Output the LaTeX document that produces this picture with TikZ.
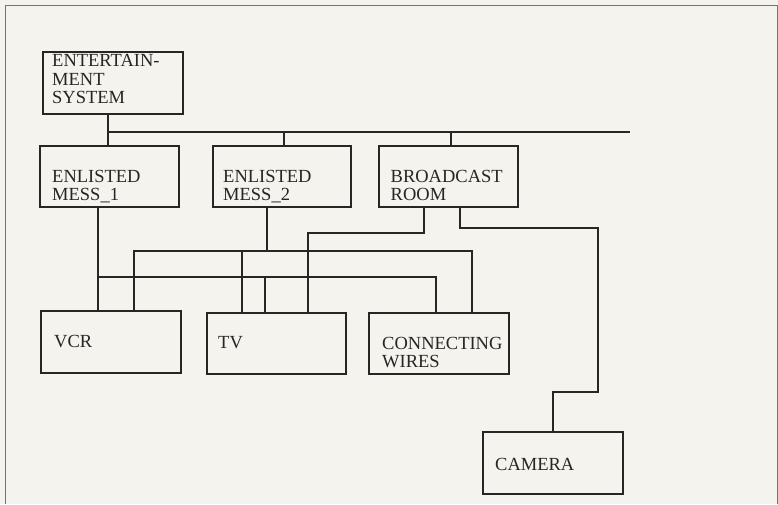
\documentclass[tikz,border=0pt]{standalone}
\usepackage{fontspec}
\setmainfont{Liberation Serif}
\definecolor{paper}{RGB}{244,243,237}
\definecolor{ink}{RGB}{38,38,38}
\definecolor{framec}{RGB}{115,115,115}
\tikzset{
  box/.style={draw=ink, line width=1.5pt, rectangle, inner sep=0pt, anchor=north west},
  lbl/.style={anchor=base west, inner sep=0pt, text=ink, font=\fontsize{18.5}{19}\selectfont},
  wire/.style={draw=ink, line width=1.5pt, line join=miter}
}
\begin{document}
\begin{tikzpicture}[x=1pt,y=-1pt]
\fill[paper] (0,0) rectangle (778,504);
\useasboundingbox (0,0) rectangle (778,504);
% outer frame
\draw[framec, line width=1pt] (5,504) -- (5,5) -- (777,5) -- (777,504);
% boxes
\node[box, minimum width=140pt, minimum height=62pt] (ent) at (42,51) {};
\node[box, minimum width=139pt, minimum height=61pt] (m1) at (39,145) {};
\node[box, minimum width=138pt, minimum height=61pt] (m2) at (212,145) {};
\node[box, minimum width=139pt, minimum height=61pt] (br) at (378,145) {};
\node[box, minimum width=140pt, minimum height=62pt] (vcr) at (40,310) {};
\node[box, minimum width=139pt, minimum height=61pt] (tv) at (206,312) {};
\node[box, minimum width=140pt, minimum height=61pt] (cw) at (368,312) {};
\node[box, minimum width=140pt, minimum height=62pt] (cam) at (482,431) {};
% labels
\node[lbl] (entA) at (52,66.5) {ENTERTAIN-};
\node[lbl] (entB) at (52,85) {MENT};
\node[lbl] (entC) at (52,103.5) {SYSTEM};
\node[lbl] (m1A) at (52,182) {ENLISTED};
\node[lbl] (m1B) at (52,200.5) {MESS\_1};
\node[lbl] (m2A) at (223,182) {ENLISTED};
\node[lbl] (m2B) at (223,200.5) {MESS\_2};
\node[lbl] (brA) at (390.5,182) {BROADCAST};
\node[lbl] (brB) at (390.5,200.5) {ROOM};
\node[lbl] (vcrA) at (54,347.5) {VCR};
\node[lbl] (tvA) at (218,348) {TV};
\node[lbl] (cwA) at (382,349) {CONNECTING};
\node[lbl] (cwB) at (382,367.5) {WIRES};
\node[lbl] (camA) at (495,470) {CAMERA};
% bus
\coordinate (bus) at (630,132);
\draw[wire] (ent.south -| 108,0) -- (m1.north -| 108,0);
\draw[wire] (m1.north -| 108,0) |- (bus);
\draw[wire] (m2.north -| 284,0) -- (bus -| 284,0);
\draw[wire] (br.north -| 451,0) -- (bus -| 451,0);
% ENLISTED MESS_1 connections
\draw[wire] (m1.south -| 98,0) -- (vcr.north -| 98,0);
\draw[wire] (m1.south -| 98,0) -- (98,277) -| (tv.north -| 265,0);
\draw[wire] (98,277) -| (cw.north -| 436,0);
% ENLISTED MESS_2 connections
\draw[wire] (m2.south -| 267,0) -- (267,251) -| (vcr.north -| 134,0);
\draw[wire] (267,251) -| (tv.north -| 242,0);
\draw[wire] (267,251) -| (cw.north -| 472,0);
% BROADCAST ROOM connections
\draw[wire] (br.south -| 424,0) -- (424,233) -| (tv.north -| 308,0);
\draw[wire] (br.south -| 460,0) -- (460,228) -- (598,228) -- (598,392) -- (553,392) -- (cam.north -| 553,0);
\end{tikzpicture}
\end{document}
